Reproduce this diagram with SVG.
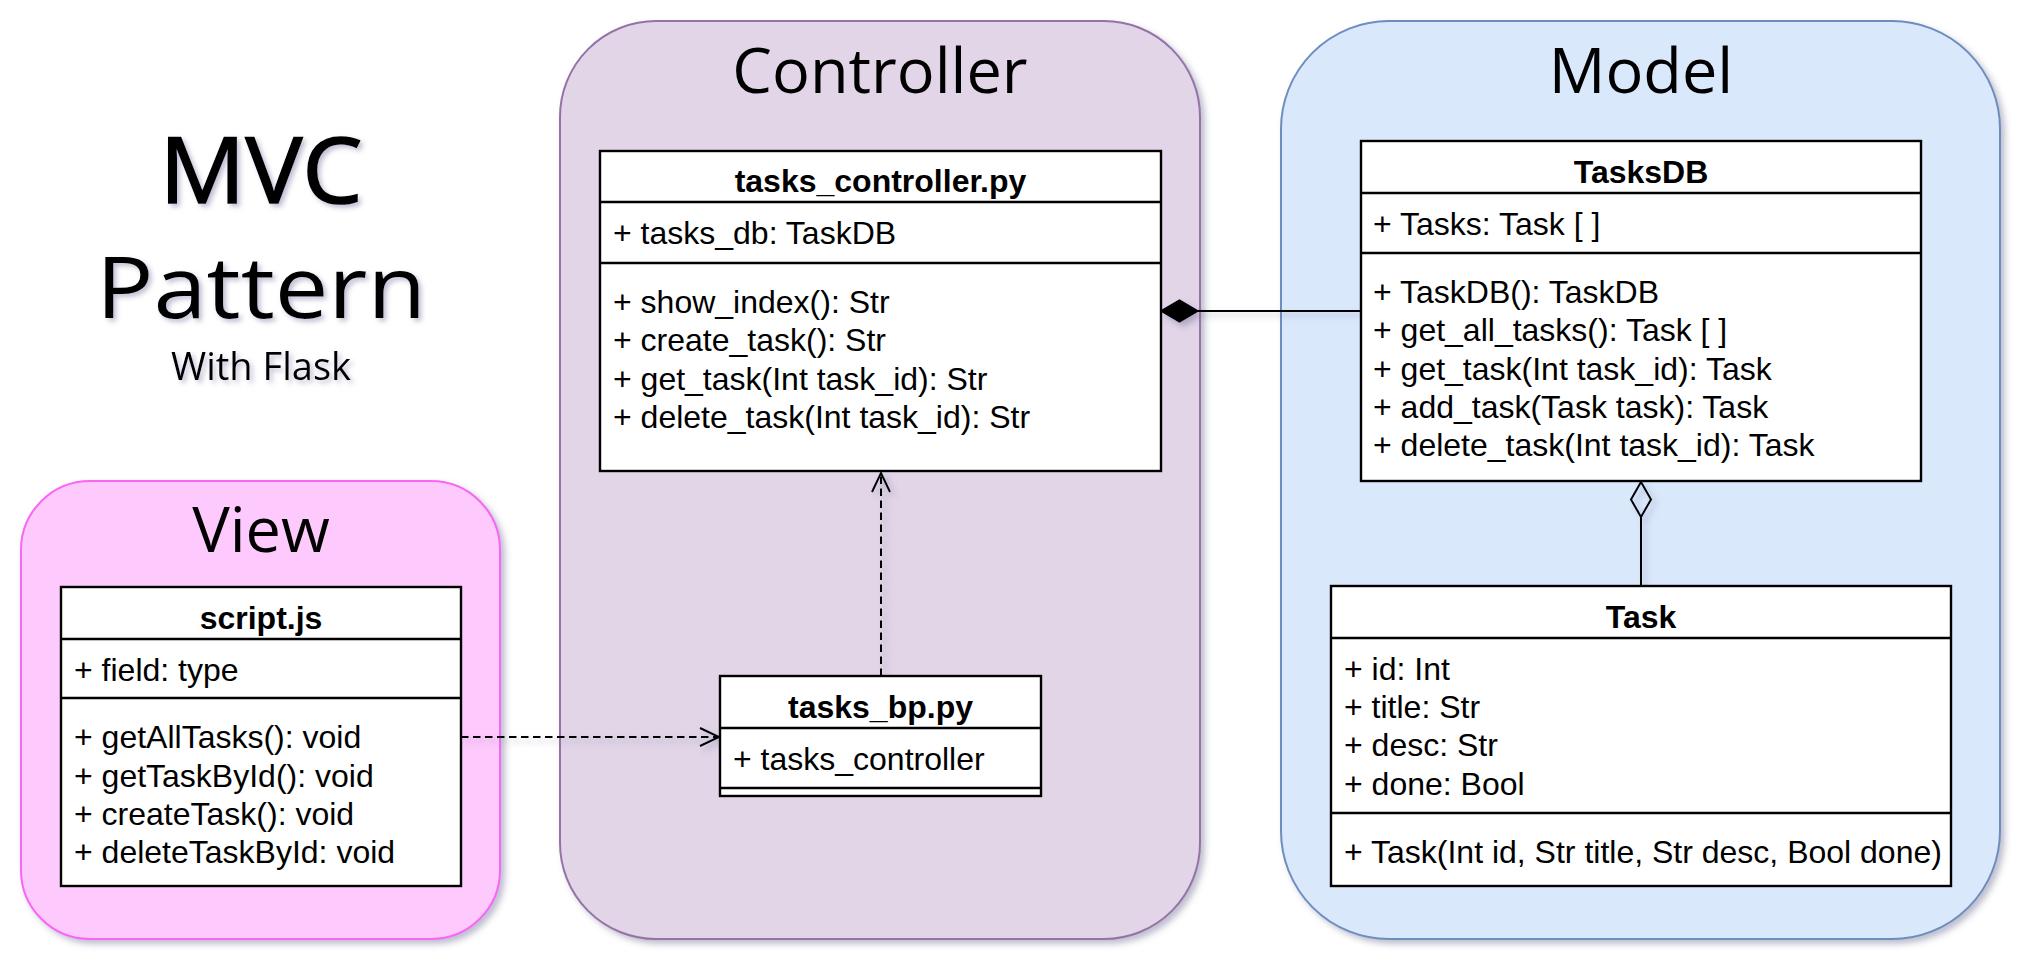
<svg xmlns="http://www.w3.org/2000/svg" width="2034" height="974" viewBox="0 0 2034 974">
<defs>
<style>
.cls{fill:#ffffff;stroke:#000000;stroke-width:2.4}
.sep{stroke:#000000;stroke-width:2.4;fill:none}
.t{font-family:"Liberation Sans",Arial,sans-serif;font-size:32px;fill:#000000}
.tb{font-family:"Liberation Sans",Arial,sans-serif;font-size:32px;font-weight:bold;fill:#000000;text-anchor:middle}
.big{font-family:"Open Sans","Noto Sans",sans-serif;font-size:63px;fill:#000000;text-anchor:middle}
.hd{font-family:"Open Sans","Noto Sans",sans-serif;fill:#000000;text-anchor:middle}
.edge{stroke:#000000;stroke-width:2;fill:none}
.dash{stroke-dasharray:7.5 4.5}
</style>
<filter id="sh" x="-10%" y="-10%" width="130%" height="130%">
<feDropShadow dx="4" dy="4" stdDeviation="3" flood-color="#6d6d94" flood-opacity="0.45"/>
</filter>
<filter id="tsh" x="-10%" y="-10%" width="130%" height="130%">
<feDropShadow dx="3" dy="3" stdDeviation="2.5" flood-color="#6d6d9c" flood-opacity="0.45"/>
</filter>
<marker id="open" markerWidth="24" markerHeight="24" refX="20" refY="10" orient="auto" markerUnits="userSpaceOnUse">
<path d="M1,1 L20,10 L1,19" fill="none" stroke="#000" stroke-width="2"/>
</marker>
</defs>
<rect x="0" y="0" width="2034" height="974" fill="#ffffff"/>

<g id="title" filter="url(#tsh)">
<text class="hd" x="261" y="203" font-size="92" stroke="#000000" stroke-width="1.6" textLength="203" lengthAdjust="spacingAndGlyphs">MVC</text>
<text class="hd" x="261" y="318" font-size="86" textLength="330" lengthAdjust="spacingAndGlyphs">Pattern</text>
<text class="hd" x="261" y="380" font-size="38" textLength="180" lengthAdjust="spacingAndGlyphs">With Flask</text>
</g>

<g id="controller-container">
<rect x="560" y="21" width="640" height="918" rx="96" ry="96" fill="#e1d5e7" stroke="#9673a6" stroke-width="2" filter="url(#sh)"/>
<text class="big" x="880" y="93">Controller</text>
</g>
<g id="model-container">
<rect x="1281" y="21" width="719" height="918" rx="108" ry="108" fill="#dae8fc" stroke="#6c8ebf" stroke-width="2" filter="url(#sh)"/>
<text class="big" x="1641" y="93">Model</text>
</g>
<g id="view-container">
<rect x="21" y="481" width="479" height="458" rx="69" ry="69" fill="#fec9fd" stroke="#f766f5" stroke-width="2" filter="url(#sh)"/>
<text class="big" x="261" y="552">View</text>
</g>

<g id="connectors">
<g filter="url(#sh)">
<line class="edge" x1="1361" y1="311" x2="1198" y2="311"/>
<polygon points="1161,311 1179.5,300 1198,311 1179.5,322" fill="#000" stroke="#000" stroke-width="1.5"/>
<line class="edge" x1="1641" y1="586" x2="1641" y2="517"/>
<polygon points="1641,482 1651,499.5 1641,517 1631,499.5" fill="none" stroke="#000" stroke-width="2"/>
<line class="edge dash" x1="881" y1="676" x2="881" y2="473" marker-end="url(#open)"/>
<line class="edge dash" x1="461" y1="737" x2="719" y2="737" marker-end="url(#open)"/>
</g>
</g>

<g id="tasks_controller">
<rect class="cls" x="600" y="151" width="561" height="320"/>
<line class="sep" x1="600" y1="202" x2="1161" y2="202"/>
<line class="sep" x1="600" y1="263" x2="1161" y2="263"/>
<text class="tb" x="880.5" y="192">tasks_controller.py</text>
<text class="t" x="613" y="244">+ tasks_db: TaskDB</text>
<text class="t" x="613" y="313">+ show_index(): Str</text>
<text class="t" x="613" y="351">+ create_task(): Str</text>
<text class="t" x="613" y="390">+ get_task(Int task_id): Str</text>
<text class="t" x="613" y="428">+ delete_task(Int task_id): Str</text>
</g>

<g id="tasksdb">
<rect class="cls" x="1361" y="141" width="560" height="340"/>
<line class="sep" x1="1361" y1="193" x2="1921" y2="193"/>
<line class="sep" x1="1361" y1="253" x2="1921" y2="253"/>
<text class="tb" x="1641" y="183">TasksDB</text>
<text class="t" x="1373" y="235">+ Tasks: Task [ ]</text>
<text class="t" x="1373" y="303">+ TaskDB(): TaskDB</text>
<text class="t" x="1373" y="341">+ get_all_tasks(): Task [ ]</text>
<text class="t" x="1373" y="380">+ get_task(Int task_id): Task</text>
<text class="t" x="1373" y="418">+ add_task(Task task): Task</text>
<text class="t" x="1373" y="456">+ delete_task(Int task_id): Task</text>
</g>

<g id="script_js">
<rect class="cls" x="61" y="587" width="400" height="299"/>
<line class="sep" x1="61" y1="639" x2="461" y2="639"/>
<line class="sep" x1="61" y1="698" x2="461" y2="698"/>
<text class="tb" x="261" y="629">script.js</text>
<text class="t" x="74" y="681">+ field: type</text>
<text class="t" x="74" y="748">+ getAllTasks(): void</text>
<text class="t" x="74" y="787">+ getTaskById(): void</text>
<text class="t" x="74" y="825">+ createTask(): void</text>
<text class="t" x="74" y="863">+ deleteTaskById: void</text>
</g>

<g id="tasks_bp">
<rect class="cls" x="720" y="676" width="321" height="120"/>
<line class="sep" x1="720" y1="728" x2="1041" y2="728"/>
<line class="sep" x1="720" y1="788" x2="1041" y2="788"/>
<text class="tb" x="880.5" y="718">tasks_bp.py</text>
<text class="t" x="733" y="770">+ tasks_controller</text>
</g>

<g id="task">
<rect class="cls" x="1331" y="586" width="620" height="300"/>
<line class="sep" x1="1331" y1="638" x2="1951" y2="638"/>
<line class="sep" x1="1331" y1="813" x2="1951" y2="813"/>
<text class="tb" x="1641" y="628">Task</text>
<text class="t" x="1344" y="680">+ id: Int</text>
<text class="t" x="1344" y="718">+ title: Str</text>
<text class="t" x="1344" y="756">+ desc: Str</text>
<text class="t" x="1344" y="795">+ done: Bool</text>
<text class="t" x="1344" y="863">+ Task(Int id, Str title, Str desc, Bool done)</text>
</g>
</svg>
